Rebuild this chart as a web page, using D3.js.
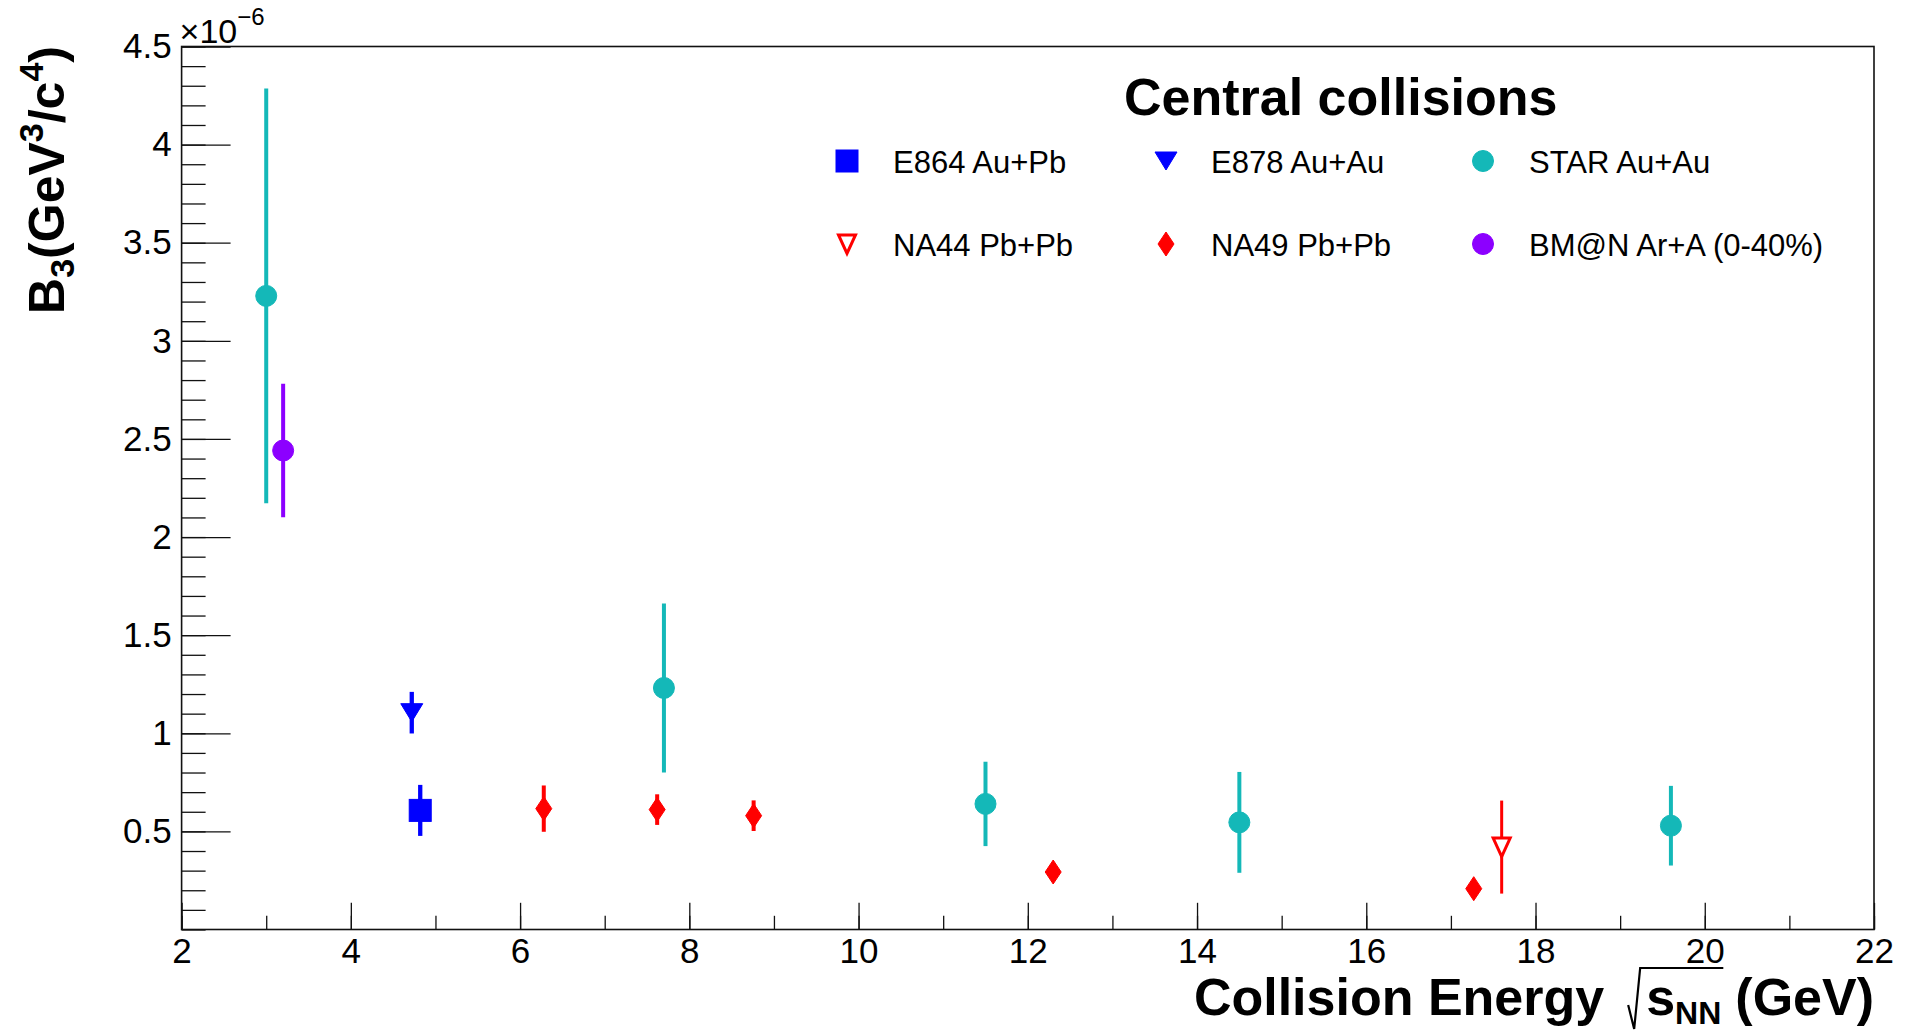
<!DOCTYPE html>
<html lang="en">
<head>
<meta charset="UTF-8">
<title>B3 vs collision energy</title>
<script src="https://d3js.org/d3.v7.min.js"></script>
<style>
  body { margin: 0; background: #fff; }
  svg { display: block; font-family: "Liberation Sans", Arial, Helvetica, sans-serif; }
  .axis .tick text { font-size: 35px; fill: #000; }
  .axis .tick line { stroke: #111; stroke-width: 1.3; }
  .legend text { font-size: 31px; fill: #000; }
</style>
</head>
<body>
<svg id="chart" width="1911" height="1032"></svg>
<script>
// values, B3 in units of 1e-6 GeV^3/c^4
const e864X = [4.82];
const e864Y = [0.607];
const e864Err = [0.13];

const e878X = [4.72];
const e878Y = [1.105];
const e878Err = [0.106];

const starX = [3.0, 7.7, 11.5, 14.5, 19.6];
const starY = [3.229, 1.231, 0.640, 0.546, 0.529];
const starErr = [1.057, 0.431, 0.215, 0.257, 0.203];

const na44X = [17.6];
const na44Y = [0.420];
const na44Err = [0.237];

const na49X = [6.28, 7.62, 8.76, 12.3, 17.27];
const na49Y = [0.616, 0.611, 0.580, 0.293, 0.208];
const na49Err = [0.118, 0.078, 0.078, 0.03, 0.03];

const bmnX = [3.2];
const bmnY = [2.441];
const bmnErr = [0.34];

const xTickLabels = [2, 4, 6, 8, 10, 12, 14, 16, 18, 20, 22];
const yTickLabels = [0.5, 1, 1.5, 2, 2.5, 3, 3.5, 4, 4.5];

const legendLabels = ["E864 Au+Pb", "E878 Au+Au", "STAR Au+Au",
                      "NA44 Pb+Pb", "NA49 Pb+Pb", "BM@N Ar+A (0-40%)"];

const svg = d3.select("#chart");
svg.append("rect").attr("width", 1911).attr("height", 1032).attr("fill", "#fff");

const frameL = 181.6, frameR = 1874, frameT = 46.5, frameB = 929.5;

const x = d3.scaleLinear().domain([2, 22]).range([frameL, frameR]);
const y = d3.scaleLinear().domain([0, 4.5]).range([frameB, frameT]);

// minor ticks
svg.append("g")
    .attr("class", "axis")
    .attr("transform", `translate(0,${frameB})`)
    .call(d3.axisBottom(x).ticks(20).tickSizeInner(-13.7).tickSizeOuter(0).tickFormat(""))
    .call(g => g.select(".domain").remove());

svg.append("g")
    .attr("class", "axis")
    .attr("transform", `translate(${frameL},0)`)
    .call(d3.axisLeft(y).ticks(45).tickSizeInner(-24).tickSizeOuter(0).tickFormat(""))
    .call(g => g.select(".domain").remove());

// major ticks + labels
svg.append("g")
    .attr("class", "axis")
    .attr("transform", `translate(0,${frameB})`)
    .call(d3.axisBottom(x).tickValues(xTickLabels).tickSizeInner(-26.7).tickSizeOuter(0).tickPadding(9))
    .call(g => g.select(".domain").remove());

svg.append("g")
    .attr("class", "axis")
    .attr("transform", `translate(${frameL},0)`)
    .call(d3.axisLeft(y).tickValues(yTickLabels).tickSizeInner(-49).tickSizeOuter(0).tickPadding(10)
        .tickFormat(d => String(d)))
    .call(g => g.select(".domain").remove());

svg.selectAll(".axis").attr("font-family", null).attr("font-size", null);

// frame
svg.append("rect")
    .attr("x", frameL).attr("y", frameT)
    .attr("width", frameR - frameL).attr("height", frameB - frameT)
    .attr("fill", "none").attr("stroke", "#111").attr("stroke-width", 1.6);

// exponent
const expo = svg.append("text").attr("x", frameL - 2).attr("y", 43).attr("font-size", 34);
expo.append("tspan").text("\u00d710");
expo.append("tspan").attr("dy", -18).attr("font-size", 24).text("\u22126");

// y title
const yt = svg.append("text")
    .attr("transform", `translate(64,46) rotate(-90)`)
    .attr("text-anchor", "end")
    .attr("font-weight", "bold")
    .attr("font-size", 50);
yt.append("tspan").text("B");
yt.append("tspan").attr("font-size", 34).attr("dy", 10).text("3");
yt.append("tspan").attr("dy", -10).text("(GeV");
yt.append("tspan").attr("font-size", 34).attr("dy", -21).text("3");
yt.append("tspan").attr("dy", 21).text("/c");
yt.append("tspan").attr("font-size", 34).attr("dy", -21).text("4");
yt.append("tspan").attr("dy", 21).text(")");

// x title, laid out from the right edge
const xtY = 1015, xtSize = 52;
const gev = svg.append("text").attr("x", frameR).attr("y", xtY)
    .attr("text-anchor", "end").attr("font-weight", "bold").attr("font-size", xtSize).text("(GeV)");
const gevW = gev.node().getComputedTextLength();
const sTxt = svg.append("text").attr("y", xtY).attr("font-weight", "bold").attr("font-size", xtSize);
sTxt.append("tspan").text("s");
sTxt.append("tspan").attr("font-size", 32).attr("dy", 9).text("NN");
const sW = sTxt.node().getComputedTextLength();
const sX = frameR - gevW - 14 - sW;
sTxt.attr("x", sX);
svg.append("path")
    .attr("d", `M${sX - 18},${xtY - 10} L${sX - 12},${xtY + 14} L${sX - 6},${xtY - 47} L${sX + sW + 2},${xtY - 47}`)
    .attr("fill", "none").attr("stroke", "#000").attr("stroke-width", 2.2);
svg.append("text").attr("x", sX - 42).attr("y", xtY)
    .attr("text-anchor", "end").attr("font-weight", "bold").attr("font-size", xtSize)
    .text("Collision Energy");

// title
svg.append("text").attr("x", 1124).attr("y", 115)
    .attr("font-weight", "bold").attr("font-size", 52).text("Central collisions");

// marker shapes
const shapes = {
  square: g => g.append("rect").attr("x", -11).attr("y", -11).attr("width", 22).attr("height", 22),
  triDown: g => g.append("path").attr("d", "M-11,-9L11,-9L0,9Z"),
  circle: g => g.append("circle").attr("r", 10.5),
  openTri: g => g.append("path").attr("d", "M-8.5,-9L8.5,-9L0,9.5Z")
      .attr("fill", "#fff").attr("stroke-width", 3).attr("stroke-linejoin", "miter"),
  diamond: g => g.append("path").attr("d", "M0,-12L8,0L0,12L-8,0Z")
};

const colors = {blue: "#0000ff", cyan: "#14b8b8", red: "#ff0000", violet: "#8c00ff"};

function drawSeries(xs, ys, errs, color, shape, lw) {
  const g = svg.append("g");
  const pts = xs.map((v, i) => ({x: v, y: ys[i], e: errs[i]}));
  g.selectAll("line.err").data(pts).join("line")
      .attr("class", "err")
      .attr("x1", d => x(d.x)).attr("x2", d => x(d.x))
      .attr("y1", d => y(d.y - d.e)).attr("y2", d => y(d.y + d.e))
      .attr("stroke", color).attr("stroke-width", lw);
  g.selectAll("g.mk").data(pts).join("g")
      .attr("class", "mk")
      .attr("transform", d => `translate(${x(d.x)},${y(d.y)})`)
      .attr("fill", color).attr("stroke", color)
      .each(function() { shapes[shape](d3.select(this)); });
}

drawSeries(starX, starY, starErr, colors.cyan, "circle", 4);
drawSeries(bmnX, bmnY, bmnErr, colors.violet, "circle", 4);
drawSeries(e878X, e878Y, e878Err, colors.blue, "triDown", 4.3);
drawSeries(e864X, e864Y, e864Err, colors.blue, "square", 4.3);
drawSeries(na49X, na49Y, na49Err, colors.red, "diamond", 4);
drawSeries(na44X, na44Y, na44Err, colors.red, "openTri", 3);

// legend
const legendShapes = ["square", "triDown", "circle", "openTri", "diamond", "circle"];
const legendColors = [colors.blue, colors.blue, colors.cyan, colors.red, colors.red, colors.violet];
const colMarkX = [847, 1166, 1483];
const colTextX = [893, 1211, 1529];
const rowY = [161, 244];

const leg = svg.append("g").attr("class", "legend");
legendLabels.forEach((lab, i) => {
  const c = i % 3, r = Math.floor(i / 3);
  const m = leg.append("g")
      .attr("transform", `translate(${colMarkX[c]},${rowY[r]})`)
      .attr("fill", legendColors[i]).attr("stroke", legendColors[i]);
  shapes[legendShapes[i]](m);
  leg.append("text").attr("x", colTextX[c]).attr("y", rowY[r] + 12).text(lab);
});
</script>
</body>
</html>
